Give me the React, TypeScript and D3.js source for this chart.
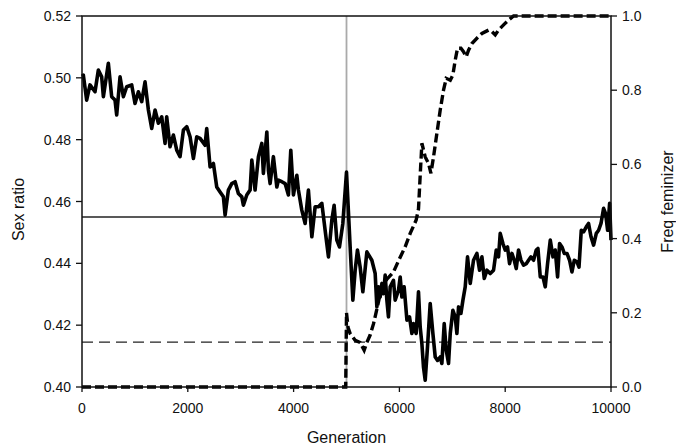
import React from "react";
import * as d3 from "d3";

// sex ratio trace (generation, value)
const srGen = [
  0, 25, 88, 151, 246, 309, 372, 404, 498, 561, 624, 656, 719, 782, 845, 940, 1002, 1066, 1129, 1192,
  1255, 1318, 1381, 1444, 1507, 1570, 1601, 1664, 1728, 1791, 1853, 1917, 1980, 2043, 2106, 2169, 2232,
  2326, 2358, 2421, 2484, 2547, 2610, 2673, 2705, 2767, 2831, 2894, 2956, 3021, 3051, 3115, 3178, 3210,
  3272, 3335, 3399, 3429, 3494, 3524, 3556, 3618, 3683, 3713, 3777, 3840, 3902, 3947, 3997, 4061, 4091,
  4155, 4218, 4280, 4345, 4407, 4469, 4534, 4596, 4659, 4723, 4766, 4817, 4867, 4931, 5000, 5069, 5120,
  5164, 5207, 5258, 5309, 5385, 5479, 5542, 5574, 5604, 5636, 5669, 5699, 5731, 5763, 5793, 5826, 5888,
  5920, 5983, 6015, 6047, 6090, 6142, 6191, 6236, 6266, 6317, 6361, 6393, 6425, 6455, 6488, 6531, 6582,
  6633, 6677, 6721, 6771, 6803, 6847, 6885, 6929, 6961, 7011, 7055, 7087, 7118, 7163, 7201, 7244, 7288,
  7339, 7401, 7465, 7515, 7560, 7604, 7655, 7717, 7780, 7831, 7874, 7906, 7957, 8001, 8044, 8082, 8127,
  8171, 8209, 8252, 8298, 8347, 8398, 8441, 8487, 8536, 8587, 8619, 8663, 8714, 8757, 8801, 8852, 8903,
  8946, 8990, 9028, 9073, 9117, 9168, 9217, 9262, 9306, 9357, 9395, 9438, 9482, 9533, 9576, 9622, 9671,
  9722, 9766, 9811, 9860, 9898, 9936, 9974, 10000,
];
const srVal = [
  0.5005, 0.5009, 0.4928, 0.4977, 0.4955, 0.5025, 0.5003, 0.4939, 0.5047, 0.4939, 0.4928, 0.488, 0.5003,
  0.4939, 0.4971, 0.4977, 0.4917, 0.4955, 0.4923, 0.4987, 0.4896, 0.4836, 0.4896, 0.4853, 0.4874, 0.4788,
  0.4874, 0.4777, 0.4815, 0.4766, 0.4745, 0.4831, 0.4842, 0.4809, 0.4739, 0.4809, 0.4804, 0.4782, 0.4836,
  0.4712, 0.4723, 0.4647, 0.4631, 0.4615, 0.4556, 0.4637, 0.4658, 0.4664, 0.4626, 0.4615, 0.4588, 0.4621,
  0.4637, 0.4734, 0.4637, 0.4745, 0.4788, 0.4691, 0.4825, 0.4701, 0.4658, 0.4745, 0.4647, 0.4669, 0.4664,
  0.4658, 0.4621, 0.4766, 0.4621, 0.4685, 0.4637, 0.4572, 0.4529, 0.4637, 0.4486, 0.4583, 0.4583, 0.4594,
  0.4507, 0.4421, 0.454, 0.4588, 0.4475, 0.4453, 0.4529, 0.4695, 0.4453, 0.4281, 0.4378, 0.4443, 0.4388,
  0.4308, 0.4437, 0.441, 0.4367, 0.4259, 0.4324, 0.4291, 0.4335, 0.4302, 0.4362, 0.4281, 0.4227, 0.4324,
  0.4345, 0.4281, 0.4313, 0.4356, 0.4291, 0.4324, 0.4216, 0.4227, 0.4173, 0.4205, 0.4173, 0.4308, 0.4194,
  0.414, 0.4065, 0.4022, 0.4129, 0.427, 0.4173, 0.4097, 0.4086, 0.4097, 0.4076, 0.4205, 0.4119, 0.4076,
  0.4173, 0.4248, 0.4227, 0.4173, 0.4259, 0.4238, 0.4281, 0.4324, 0.4421, 0.4335, 0.441, 0.4432, 0.4378,
  0.4421, 0.4351, 0.4378, 0.4367, 0.4378, 0.4443, 0.4421, 0.4497, 0.4464, 0.4443, 0.4453, 0.4399, 0.4432,
  0.441, 0.4383, 0.4443, 0.441, 0.4394, 0.4399, 0.441, 0.4421, 0.441, 0.4443, 0.4448, 0.4356, 0.4356,
  0.4324, 0.4399, 0.4475, 0.4421, 0.4443, 0.4356, 0.4464, 0.4453, 0.4432, 0.4432, 0.441, 0.4372, 0.441,
  0.4405, 0.4388, 0.4507, 0.4502, 0.4518, 0.4529, 0.4486, 0.4459, 0.4497, 0.4507, 0.4529, 0.4578, 0.4561,
  0.4507, 0.4594, 0.4475,
];

// feminizer frequency trace (right axis)
const ffGen = [
  0, 4985, 5000, 5030, 5069, 5164, 5258, 5334, 5385, 5447, 5510, 5574, 5650, 5760, 5888, 5983, 6109, 6204,
  6317, 6361, 6393, 6425, 6488, 6550, 6596, 6645, 6709, 6771, 6834, 6885, 6961, 7011, 7055, 7099, 7163,
  7212, 7263, 7307, 7371, 7465, 7560, 7685, 7749, 7812, 7874, 7969, 8063, 8158, 10000,
];
const ffVal = [
  0, 0, 0.2, 0.16, 0.144, 0.126, 0.12, 0.099, 0.12, 0.14, 0.17, 0.21, 0.26, 0.29, 0.31, 0.34, 0.378, 0.414,
  0.45, 0.48, 0.57, 0.657, 0.62, 0.603, 0.576, 0.62, 0.684, 0.746, 0.8, 0.832, 0.827, 0.841, 0.881, 0.913,
  0.913, 0.904, 0.89, 0.908, 0.926, 0.94, 0.953, 0.962, 0.958, 0.949, 0.962, 0.976, 0.989, 1.0, 1.0,
];

const xTicks = [0, 2000, 4000, 6000, 8000, 10000];
const leftTicks = [0.4, 0.42, 0.44, 0.46, 0.48, 0.5, 0.52];
const rightTicks = [0, 0.2, 0.4, 0.6, 0.8, 1.0];

const refSolid = 0.455; // thin solid reference line (left axis)
const refDashed = 0.4145; // thin dashed reference line (left axis)
const switchGen = 5000; // grey vertical marker

const W = 676;
const H = 448;
const m = { left: 82, right: 65, top: 16, bottom: 61 };
const font = "'Liberation Sans', Arial, sans-serif";

export default function App() {
  const x = d3.scaleLinear().domain([0, 10000]).range([m.left, W - m.right]);
  const yL = d3.scaleLinear().domain([0.4, 0.52]).range([H - m.bottom, m.top]);
  const yR = d3.scaleLinear().domain([0, 1]).range([H - m.bottom, m.top]);

  const srLine = d3
    .line<number>()
    .x((d, i) => x(srGen[i]))
    .y((d) => yL(d));
  const ffLine = d3
    .line<number>()
    .x((d, i) => x(ffGen[i]))
    .y((d) => yR(d));

  const x0 = x.range()[0];
  const x1 = x.range()[1];
  const yb = yL.range()[0];
  const yt = yL.range()[1];

  return (
    <>
      <style>{`body{margin:0}`}</style>
      <svg width={W} height={H} style={{ display: "block", background: "#fff" }} fontFamily={font}>
        {/* grey marker at the switch */}
        <line x1={x(switchGen)} x2={x(switchGen)} y1={yt} y2={yb} stroke="#aaa" strokeWidth={1.8} />

        {/* reference lines */}
        <line x1={x0} x2={x1} y1={yL(refSolid)} y2={yL(refSolid)} stroke="#222" strokeWidth={1.4} />
        <line
          x1={x0}
          x2={x1}
          y1={yL(refDashed)}
          y2={yL(refDashed)}
          stroke="#222"
          strokeWidth={1.4}
          strokeDasharray="11,6"
        />

        {/* series */}
        <path d={ffLine(ffVal) || ""} fill="none" stroke="#000" strokeWidth={3.4} strokeDasharray="9,4" />
        <path d={srLine(srVal) || ""} fill="none" stroke="#000" strokeWidth={3.6} strokeLinejoin="round" />

        {/* frame */}
        <rect x={x0} y={yt} width={x1 - x0} height={yb - yt} fill="none" stroke="#111" strokeWidth={1.5} />

        {/* x axis */}
        {xTicks.map((t) => (
          <g key={t}>
            <line x1={x(t)} x2={x(t)} y1={yb} y2={yb + 5} stroke="#111" strokeWidth={1.3} />
            <text x={x(t)} y={yb + 26} textAnchor="middle" fontSize={14} fill="#111">
              {t}
            </text>
          </g>
        ))}
        <text x={(x0 + x1) / 2} y={443} textAnchor="middle" fontSize={16} fill="#111">
          Generation
        </text>

        {/* left axis */}
        {leftTicks.map((t) => (
          <g key={t}>
            <line x1={x0 - 6} x2={x0} y1={yL(t)} y2={yL(t)} stroke="#111" strokeWidth={1.3} />
            <text x={x0 - 11} y={yL(t) + 5} textAnchor="end" fontSize={14} fill="#111">
              {t.toFixed(2)}
            </text>
          </g>
        ))}
        <text
          transform={`translate(24,${(yt + yb) / 2 + 8}) rotate(-90)`}
          textAnchor="middle"
          fontSize={16}
          fill="#111"
        >
          Sex ratio
        </text>

        {/* right axis */}
        {rightTicks.map((t) => (
          <g key={t}>
            <line x1={x1} x2={x1 + 6} y1={yR(t)} y2={yR(t)} stroke="#111" strokeWidth={1.3} />
            <text x={x1 + 11} y={yR(t) + 5} textAnchor="start" fontSize={14} fill="#111">
              {t.toFixed(1)}
            </text>
          </g>
        ))}
        <text
          transform={`translate(673,${(yt + yb) / 2}) rotate(-90)`}
          textAnchor="middle"
          fontSize={16}
          fill="#111"
        >
          Freq feminizer
        </text>
      </svg>
    </>
  );
}
